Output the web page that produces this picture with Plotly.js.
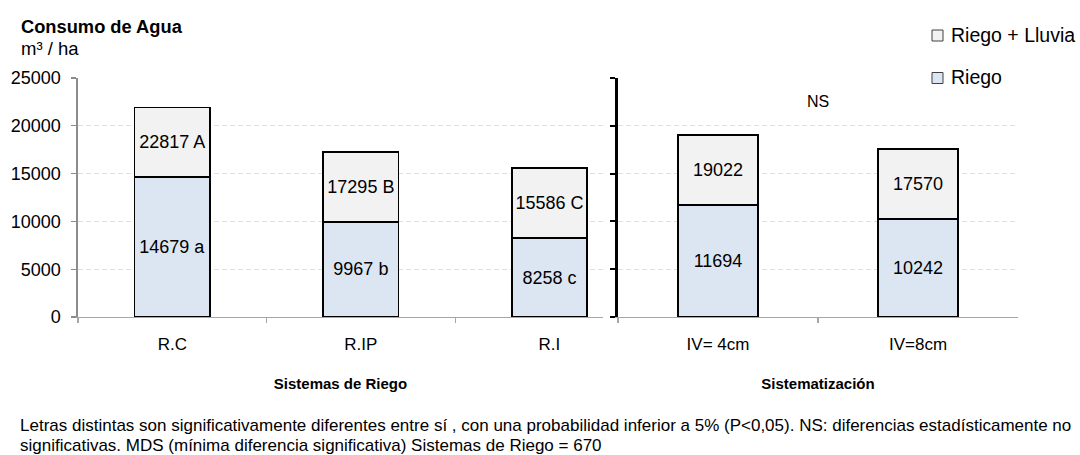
<!DOCTYPE html>
<html><head><meta charset="utf-8">
<script src="https://cdn.plot.ly/plotly-3.0.1.min.js"></script>
<style>body{margin:0;background:#fff;}</style>
</head><body><div id="chart" style="width:1080px;height:455px;"></div>
<script>
// ---- data ----
const sistemas = ['R.C', 'R.IP', 'R.I'];
const sistematizacion = ['IV= 4cm', 'IV=8cm'];
const riegoSistemas = [14679, 9967, 8258];
const totalSistemas = [21900, 17295, 15586];
const riegoSistematizacion = [11694, 10242];
const totalSistematizacion = [19022, 17570];
const etiquetaRiegoSistemas = ['14679 a', '9967 b', '8258 c'];
const etiquetaTotalSistemas = ['22817 A', '17295 B', '15586 C'];
const etiquetaRiegoSistematizacion = ['11694', '10242'];
const etiquetaTotalSistematizacion = ['19022', '17570'];
const yTicks = [0, 5000, 10000, 15000, 20000, 25000];
const nombreRiego = 'Riego';
const nombreTotal = 'Riego + Lluvia';

// ---- geometry helpers (paper coords from px) ----
const L = 78, T = 78, W = 1080, H = 455, R = 62, B = 138;
const PW = W - L - R, PH = H - T - B;
const px = x => (x - L) / PW;
const py = y => (H - B - y) / PH;

const FONT = 'Liberation Sans, Arial, sans-serif';
const colRiego = '#dce6f2';
const colTotal = '#f2f2f2';

function barTrace(x, y, text, color, name, xa, ya) {
  return {
    type: 'bar', x: x, y: y, text: text, name: name,
    xaxis: xa, yaxis: ya, width: 0.4,
    marker: {color: color, line: {color: '#000', width: 1.7}},
    textposition: 'inside', insidetextanchor: 'middle', textangle: 0,
    constraintext: 'none',
    textfont: {family: FONT, size: 18, color: '#000'},
    hoverinfo: 'none', showlegend: false
  };
}
const diffSistemas = totalSistemas.map((v, i) => v - riegoSistemas[i]);
const diffSistematizacion = totalSistematizacion.map((v, i) => v - riegoSistematizacion[i]);

const data = [
  barTrace(sistemas, riegoSistemas, etiquetaRiegoSistemas, colRiego, nombreRiego, 'x', 'y'),
  barTrace(sistemas, diffSistemas, etiquetaTotalSistemas, colTotal, nombreTotal, 'x', 'y'),
  barTrace(sistematizacion, riegoSistematizacion, etiquetaRiegoSistematizacion, colRiego, nombreRiego, 'x2', 'y2'),
  barTrace(sistematizacion, diffSistematizacion, etiquetaTotalSistematizacion, colTotal, nombreTotal, 'x2', 'y2')
];

const gridCol = '#d6dff0';
const layout = {
  width: W, height: H,
  margin: {l: L, r: R, t: T, b: B, pad: 0},
  paper_bgcolor: '#fff', plot_bgcolor: 'rgba(0,0,0,0)',
  barmode: 'stack',
  showlegend: false,
  font: {family: FONT, color: '#000'},
  xaxis: {
    domain: [0, px(603)], type: 'category', range: [-0.5, 2.284],
    tickson: 'boundaries', ticks: 'outside', ticklen: 5, tickcolor: '#a6a6a6', tickwidth: 1.3,
    showline: true, linecolor: '#a6a6a6', linewidth: 1.3, showgrid: false, zeroline: false,
    tickfont: {family: FONT, size: 17}, ticklabelstandoff: 11, anchor: 'y',
    title: {text: '<b>Sistemas de Riego</b>', font: {family: FONT, size: 15}, standoff: 25}
  },
  xaxis2: {
    domain: [px(618), 1], type: 'category', range: [-0.5, 1.5],
    tickson: 'boundaries', ticks: 'outside', ticklen: 5, tickcolor: '#a6a6a6', tickwidth: 1.3,
    showline: true, linecolor: '#a6a6a6', linewidth: 1.3, showgrid: false, zeroline: false,
    tickfont: {family: FONT, size: 17}, ticklabelstandoff: 11, anchor: 'y2',
    title: {text: '<b>Sistematización</b>', font: {family: FONT, size: 15}, standoff: 25}
  },
  yaxis: {
    domain: [0, 1], range: [0, 25000], tickvals: yTicks, ticktext: yTicks.map(String),
    ticks: 'outside', ticklen: 5, tickcolor: '#8c8c8c', tickwidth: 1.3,
    showline: true, linecolor: '#8c8c8c', linewidth: 1.6,
    showgrid: true, gridcolor: gridCol, griddash: '5px,3px', gridwidth: 1, zeroline: false,
    tickfont: {family: FONT, size: 18}, ticklabelstandoff: 7, anchor: 'x'
  },
  yaxis2: {
    domain: [0, 1], range: [0, 25000], tickvals: yTicks,
    ticks: 'outside', ticklen: 5, tickcolor: '#000', tickwidth: 2,
    showline: true, linecolor: '#000', linewidth: 2.6, showticklabels: false,
    showgrid: true, gridcolor: gridCol, griddash: '5px,3px', gridwidth: 1, zeroline: false,
    anchor: 'x2'
  },
  shapes: [
    // white legend background over the top grid line
    {type: 'rect', xref: 'paper', yref: 'paper', x0: px(902), x1: px(1080), y0: py(62), y1: py(92),
     fillcolor: '#fff', line: {width: 0}, layer: 'above'},
    {type: 'rect', xref: 'paper', yref: 'paper', x0: px(932), x1: px(943), y0: py(30), y1: py(41),
     fillcolor: colTotal, line: {color: '#404040', width: 1}, layer: 'above'},
    {type: 'rect', xref: 'paper', yref: 'paper', x0: px(932), x1: px(943), y0: py(72.5), y1: py(83.5),
     fillcolor: colRiego, line: {color: '#404040', width: 1}, layer: 'above'}
  ],
  annotations: [
    {xref: 'paper', yref: 'paper', x: px(949), y: py(35.5), xanchor: 'left', yanchor: 'middle',
     text: nombreTotal, showarrow: false, font: {family: FONT, size: 19.5}},
    {xref: 'paper', yref: 'paper', x: px(949), y: py(77), xanchor: 'left', yanchor: 'middle',
     text: nombreRiego, showarrow: false, font: {family: FONT, size: 19.5}},
    {xref: 'paper', yref: 'paper', x: px(19), y: py(26), xanchor: 'left', yanchor: 'middle',
     text: '<b>Consumo de Agua</b>', showarrow: false, font: {family: FONT, size: 18.3}},
    {xref: 'paper', yref: 'paper', x: px(19), y: py(48.5), xanchor: 'left', yanchor: 'middle',
     text: 'm³ / ha', showarrow: false, font: {family: FONT, size: 18.5}},
    {xref: 'paper', yref: 'paper', x: px(818), y: py(101.5), xanchor: 'center', yanchor: 'middle',
     text: 'NS', showarrow: false, font: {family: FONT, size: 16}},
    {xref: 'paper', yref: 'paper', x: px(19), y: py(425.5), xanchor: 'left', yanchor: 'middle',
     text: 'Letras distintas son significativamente diferentes entre sí , con una probabilidad inferior a 5% (P<0,05). NS: diferencias estadísticamente no',
     showarrow: false, font: {family: FONT, size: 17}, borderpad: 0},
    {xref: 'paper', yref: 'paper', x: px(19), y: py(445.5), xanchor: 'left', yanchor: 'middle',
     text: 'significativas. MDS (mínima diferencia significativa) Sistemas de Riego = 670',
     showarrow: false, font: {family: FONT, size: 17}, borderpad: 0}
  ]
};

Plotly.newPlot('chart', data, layout, {displayModeBar: false, staticPlot: true});
</script>
</body></html>
